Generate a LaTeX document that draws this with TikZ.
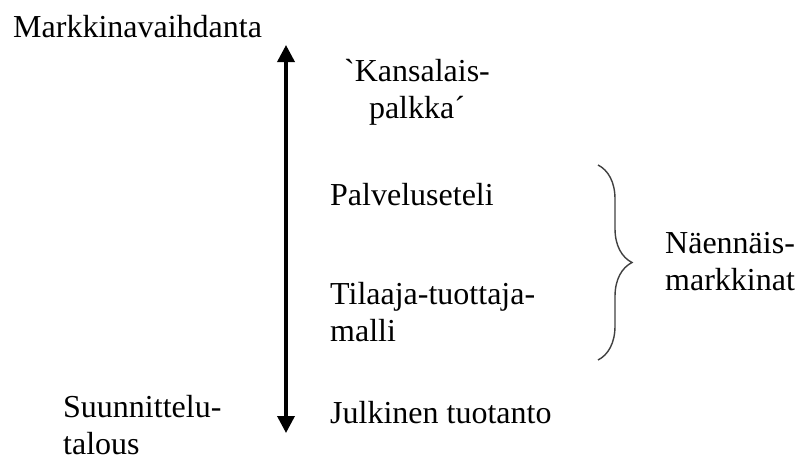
\documentclass[tikz,border=0pt]{standalone}
\usepackage{fontspec}
\setmainfont{Liberation Serif}[Ligatures=TeXOff]
\usetikzlibrary{arrows.meta,decorations.pathreplacing}
\tikzset{>={Triangle[width=17pt,length=17pt]}}

\begin{document}
\begin{tikzpicture}[x=1pt, y=-1pt,
  lbl/.style={anchor=base west, inner sep=0pt, align=left,
    font=\fontsize{32}{37}\selectfont},
  axis/.style={<->, line width=3.5pt},
  brc/.style={decorate, decoration={brace, amplitude=34pt},
    line width=1.4pt, draw=black!75}]

  \useasboundingbox (0,0) rectangle (801,464);

  % ends of the scale
  \node[lbl] (markk) at (13,37) {Markkinavaihdanta};
  \node[lbl] (suunn) at (63,454) {Suunnittelu-\\talous};

  % the scale
  \coordinate (top) at (286,45);
  \coordinate (bot) at (286,433);
  \draw[axis] (bot) -- (top);

  % forms along the scale
  \node[lbl, anchor=base, align=center] (kansa) at (417,118) {`Kansalais-\\palkka´};
  \node[lbl] (palve) at (330,205) {Palveluseteli};
  \node[lbl] (tilaa) at (330,341) {Tilaaja-tuottaja-\\malli};
  \node[lbl] (julki) at (330,423) {Julkinen tuotanto};

  % quasi-markets
  \coordinate (btop) at (598,165);
  \coordinate (bbot) at (598,360);
  \draw[brc] (btop) -- (bbot);
  \node[lbl] (naenn) at (665,290) {Näennäis-\\markkinat};

\end{tikzpicture}
\end{document}
